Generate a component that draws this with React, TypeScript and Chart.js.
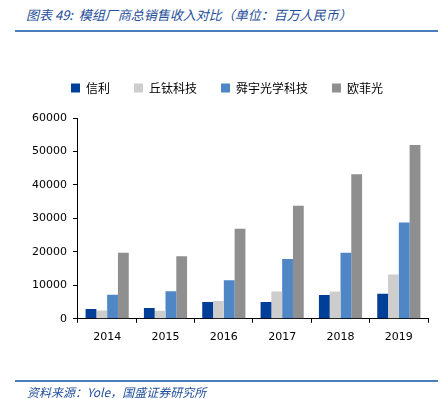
import React, { useEffect, useRef } from "react";
import { Chart, registerables } from "chart.js";

Chart.register(...registerables);

const years = ["2014", "2015", "2016", "2017", "2018", "2019"];
const seriesNames = ["信利", "丘钛科技", "舜宇光学科技", "欧菲光"];
const truly = [2900, 3200, 5000, 5000, 7100, 7450];
const qtech = [2450, 2400, 5350, 8150, 8150, 13200];
const sunny = [7150, 8250, 11550, 17900, 19700, 28800];
const ofilm = [19700, 18700, 26900, 33800, 43200, 51900];
const colors = ["#003f98", "#cdcdcd", "#4f86c6", "#8f8f8f"];
const yTicks = [0, 10000, 20000, 30000, 40000, 50000, 60000];

const titleText = "图表 49:  模组厂商总销售收入对比（单位：百万人民币）";
const sourceText = "资料来源：Yole，国盛证券研究所";

export default function App() {
  const ref = useRef<HTMLCanvasElement>(null);
  useEffect(() => {
    document.body.style.margin = "0";
    const legendSpacer = {
      id: "legendSpacer",
      beforeInit(chart: any) {
        const orig = chart.legend.fit;
        chart.legend.fit = function () {
          orig.bind(chart.legend)();
          this.height += 14;
        };
      },
    };
    const chart = new Chart(ref.current!, {
      type: "bar",
      data: {
        labels: years,
        datasets: [truly, qtech, sunny, ofilm].map((d, i) => ({
          label: seriesNames[i],
          data: d,
          backgroundColor: colors[i],
          barPercentage: 1,
          categoryPercentage: 0.74,
        })),
      },
      plugins: [legendSpacer],
      options: {
        animation: false,
        responsive: false,
        layout: { padding: { top: 58, left: 26, right: 16, bottom: 47 } },
        plugins: {
          tooltip: { enabled: false },
          legend: {
            position: "top",
            labels: {
              boxWidth: 9,
              boxHeight: 9,
              padding: 24,
              color: "#000",
              font: { family: "'Noto Sans CJK SC'", size: 12 },
            },
          },
        },
        scales: {
          x: {
            grid: { drawOnChartArea: false, drawTicks: true, tickLength: 4, color: "#000" },
            border: { color: "#000", width: 1 },
            ticks: { color: "#000", padding: 8, font: { family: "'DejaVu Sans'", size: 11 } },
          },
          y: {
            min: 0,
            max: 60000,
            afterBuildTicks(axis: any) {
              axis.ticks = yTicks.map((v) => ({ value: v }));
            },
            grid: { drawOnChartArea: false, drawTicks: true, tickLength: 5, color: "#000" },
            border: { color: "#000", width: 1 },
            ticks: {
              color: "#000",
              padding: 6,
              font: { family: "'DejaVu Sans'", size: 11 },
              callback: (v: any) => String(v),
            },
          },
        },
      },
    });
    return () => chart.destroy();
  }, []);

  return (
    <div style={{ position: "relative", width: 444, height: 399, background: "#fff" }}>
      <div
        style={{
          position: "absolute",
          left: 26,
          top: 7,
          fontFamily: "'Noto Sans CJK SC'",
          fontStyle: "italic",
          fontSize: 13,
          color: "#1f4e9a",
          whiteSpace: "pre",
          lineHeight: "16px",
        }}
      >
        {titleText}
      </div>
      <div style={{ position: "absolute", left: 15, top: 30, width: 423, height: 2, background: "#4a7ebb" }} />
      <canvas ref={ref} width={444} height={399} style={{ position: "absolute", left: 0, top: 0 }} />
      <div style={{ position: "absolute", left: 15, top: 380, width: 423, height: 2, background: "#4a7ebb" }} />
      <div
        style={{
          position: "absolute",
          left: 27,
          top: 384,
          fontFamily: "'Noto Sans CJK SC'",
          fontStyle: "italic",
          fontSize: 12,
          color: "#1f4e9a",
          whiteSpace: "pre",
          lineHeight: "15px",
        }}
      >
        {sourceText}
      </div>
    </div>
  );
}
